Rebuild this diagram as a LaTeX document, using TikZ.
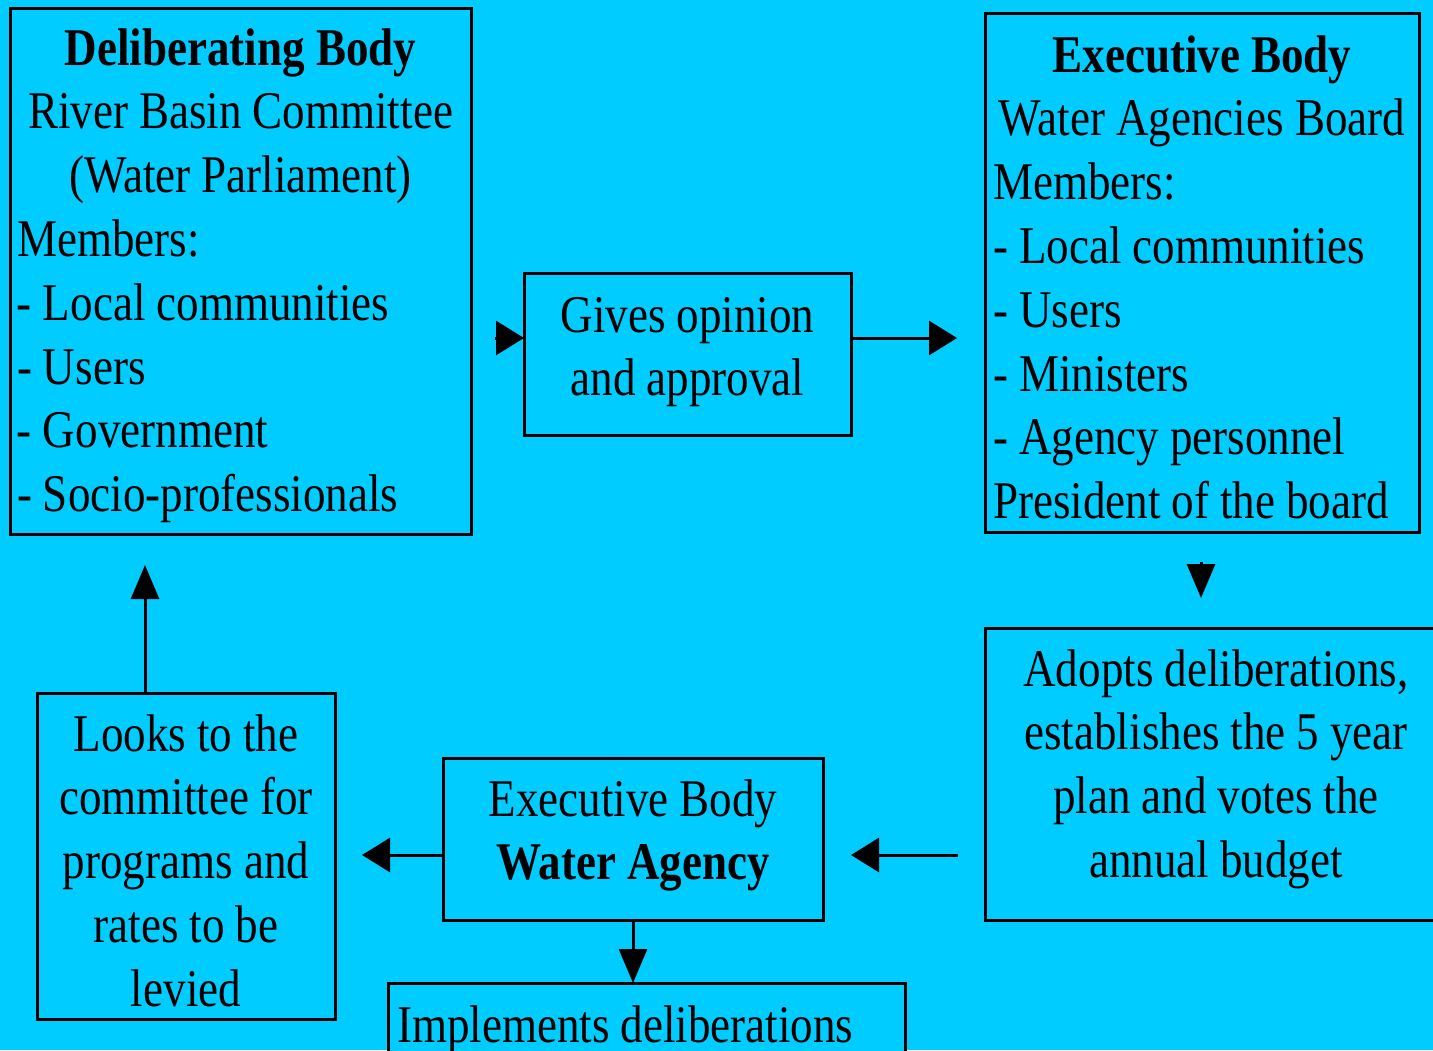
\documentclass[tikz,border=0pt]{standalone}
\usepackage{fontspec}
\setmainfont{Liberation Serif}[FakeStretch=0.85]
\usetikzlibrary{arrows.meta}
\definecolor{basin}{RGB}{0,204,255}
\newcommand{\midline}[1]{\hfill{#1}\hfill\null}

\begin{document}
\begin{tikzpicture}[x=0.5pt, y=-0.5pt,
    box/.style={draw, line width=1.5pt, fill=basin, anchor=north west, outer sep=0pt,
      inner ysep=0pt, inner xsep=3.5pt, font=\fontsize{26.5pt}{31.9pt}\selectfont,
      execute at begin node={\spaceskip=5.5pt\relax}},
    harrow/.style={line width=1.5pt, -{Triangle[length=14pt, width=17pt]}},
    varrow/.style={line width=1.5pt, -{Triangle[length=17pt, width=14pt]}}]
  % Background
  \fill[basin] (0,0) rectangle (1433,1050);
  \useasboundingbox (0,0) rectangle (1433,1050);
  % Boxes
  \node[box, align=left, text width=223.5pt, text height=28.5pt, text depth=234.5pt] (delib) at (10,8)
    {\midline{\bfseries Deliberating Body}\\
     \midline{River Basin Committee}\\
     \midline{(Water Parliament)}\\
     Members:\\
     - Local communities\\
     - Users\\
     - Government\\
     - Socio-professionals};
  \node[box, align=center, text width=156.5pt, text height=29.5pt, text depth=51.5pt] (gives) at (524,273)
    {Gives opinion\\and approval};
  \node[box, align=left, inner xsep=4pt, text width=209pt, text height=29.25pt, text depth=230pt] (exec) at (985,13.5)
    {\midline{\bfseries Executive Body}\\
     \midline{Water Agencies Board}\\
     Members:\\
     - Local communities\\
     - Users\\
     - Ministers\\
     - Agency personnel\\
     President of the board};
  \node[box, align=center, text width=224pt, text height=29pt, text depth=117pt] (adopts) at (985,628)
    {Adopts deliberations,\\establishes the 5 year\\plan and votes the\\annual budget};
  \node[box, align=center, text width=183pt, text height=29pt, text depth=52pt] (wa) at (443,758)
    {Executive Body\\\textbf{Water Agency}};
  \node[box, align=center, text width=142pt, text height=29pt, text depth=134pt] (looks) at (37,693)
    {Looks to the\\committee for\\programs and\\rates to be\\levied};
  \node[box, align=left, inner xsep=4.5pt, text width=249.5pt, text height=29.5pt, text depth=29pt] (impl) at (388,983)
    {Implements deliberations};
  % Arrows
  \coordinate (opin) at (495,338);
  \coordinate (toexec) at (957,338);
  \draw[harrow] (opin) -- (opin -| gives.west);
  \draw[harrow] (opin -| gives.east) -- (toexec);
  \coordinate (dtop) at (1201,562);
  \coordinate (dbot) at (1201,598);
  \draw[varrow] (dtop) -- (dbot);
  \coordinate (lfrom) at (958,855);
  \coordinate (lto) at (851,855);
  \draw[harrow] (lfrom) -- (lto);
  \coordinate (tolooks) at (362,855);
  \draw[harrow] (tolooks -| wa.west) -- (tolooks);
  \draw[varrow] (wa.south) -- (wa.south |- impl.north);
  \coordinate (uptip) at (145,565);
  \draw[varrow] (uptip |- looks.north) -- (uptip);
\end{tikzpicture}
\end{document}
